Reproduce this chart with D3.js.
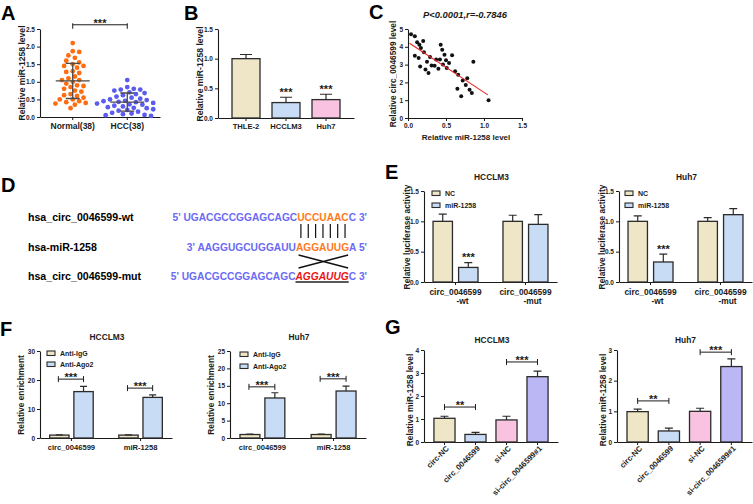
<!DOCTYPE html>
<html><head><meta charset="utf-8">
<script src="https://cdn.jsdelivr.net/npm/d3@7"></script>
<style>
body{margin:0;background:#fff;}
svg{display:block;font-family:Arial,"Liberation Sans",sans-serif;}
</style></head><body>
<svg id="chart" width="753" height="504"></svg>
<script>
// ---------------- DATA ----------------
const aCats = ["Normal(38)", "HCC(38)"];
const aNormal = [2.10,1.87,1.85,1.75,1.68,1.60,1.55,1.50,1.45,1.45,1.40,1.30,1.28,1.25,1.15,1.10,1.05,1.05,1.00,0.95,
                 0.90,0.88,0.85,0.80,0.75,0.72,0.65,0.62,0.60,0.55,0.50,0.50,0.45,0.42,0.40,0.38,0.35,0.25];
const aHCC = [1.05,0.85,0.80,0.78,0.78,0.75,0.70,0.68,0.65,0.62,0.58,0.55,0.52,0.50,0.48,0.46,0.45,0.43,0.42,0.40,
              0.38,0.36,0.35,0.32,0.30,0.28,0.26,0.25,0.22,0.20,0.18,0.15,0.12,0.10,0.08,0.06,0.05,0.03];
const aSig = "***";

const bCats = ["THLE-2", "HCCLM3", "Huh7"];
const bVals = [1.00, 0.26, 0.31];
const bErr  = [0.07, 0.09, 0.09];
const bSig  = ["", "***", "***"];

const cX = [0.04,0.09,0.12,0.15,0.09,0.14,0.17,0.20,0.21,0.16,0.23,0.25,0.27,0.29,0.35,0.37,0.40,0.42,0.43,
            0.45,0.46,0.48,0.50,0.51,0.54,0.58,0.62,0.66,0.65,0.70,0.72,0.76,0.78,0.81,0.84,0.86,1.06,0.31];
const cY = [4.70,4.59,4.25,4.12,3.50,3.37,3.93,4.33,3.70,2.90,2.72,3.16,2.53,3.43,2.94,3.28,2.77,3.28,4.12,
            3.84,3.00,3.56,3.24,2.81,3.09,3.52,2.62,2.43,1.65,1.22,2.10,1.85,2.23,1.59,1.40,3.16,1.00,2.95];
const cFitX = [0.02, 1.05];
const cFitY = [4.20, 1.30];
const cTitle = "P<0.0001,r=-0.7846";

const dRows = ["hsa_circ_0046599-wt", "hsa-miR-1258", "hsa_circ_0046599-mut"];
const dSeq = [["5' UGACGCCGGAGCAGC", "UCCUAAC", "C 3'"],
              ["3' AAGGUGCUGGAUU", "AGGAUUG", "A 5'"],
              ["5' UGACGCCGGAGCAGC", "AGGAUUG", "C 3'"]];

const eGroups = [["circ_0046599", "-wt"], ["circ_0046599", "-mut"]];
const eSeries = ["NC", "miR-1258"];
const eHccNC = [1.00, 1.00], eHccNCErr = [0.12, 0.10];
const eHccMiR = [0.24, 0.95], eHccMiRErr = [0.08, 0.16];
const eHuhNC = [1.00, 1.00], eHuhNCErr = [0.09, 0.06];
const eHuhMiR = [0.33, 1.11], eHuhMiRErr = [0.13, 0.10];
const eSig = ["***", ""];

const fGroups = ["circ_0046599", "miR-1258"];
const fSeries = ["Anti-IgG", "Anti-Ago2"];
const fHccIgG = [1.0, 1.0], fHccIgGErr = [0.1, 0.1];
const fHccAgo = [16.0, 14.0], fHccAgoErr = [1.8, 0.9];
const fHuhIgG = [1.0, 1.0], fHuhIgGErr = [0.1, 0.1];
const fHuhAgo = [11.5, 13.5], fHuhAgoErr = [1.5, 1.4];
const fHccBracket = [20.3, 17.2];
const fHuhBracket = [14.7, 17.0];
const fSig = ["***", "***"];

const gCats = ["circ-NC", "circ_0046599", "si-NC", "si-circ_0046599#1"];
const gHcc = [1.03, 0.33, 0.96, 2.84], gHccErr = [0.09, 0.09, 0.16, 0.24];
const gHuh = [0.99, 0.36, 1.00, 2.46], gHuhErr = [0.08, 0.09, 0.10, 0.25];
const gHccBracket = [1.52, 3.48];
const gHuhBracket = [1.34, 2.93];
const gSig = ["**", "***"];

// ---------------- STYLE ----------------
const INK = "#1b1b1b", EDGE = "#2b2b2b";
const C_BEIGE = "#EEE6C6", C_BLUE = "#C8DCF6", C_PINK = "#F8C2E0", C_LAV = "#BAB7F4";
const C_ORANGE_PT = "#FF6C10", C_BLUE_PT = "#5B5BF0";
const SEQ_BLUE = "#6A6AF4", SEQ_ORANGE = "#FF7A1A", SEQ_RED = "#EE1111";

const svg = d3.select("#chart");

function txt(x, y, s, fs, o = {}) {
  const t = svg.append("text").attr("x", x).attr("y", y).attr("font-size", fs)
    .attr("font-weight", "bold").attr("fill", o.fill || INK)
    .attr("text-anchor", o.anchor || "middle").text(s);
  if (o.italic) t.attr("font-style", "italic");
  return t;
}
function vLabel(x, yc, s, fs) {
  svg.append("text").attr("transform", `translate(${x},${yc}) rotate(-90)`)
    .attr("dy", "0.35em").attr("text-anchor", "middle").attr("font-size", fs)
    .attr("font-weight", "bold").attr("fill", INK).text(s);
}
function styleAxis(g, fs) {
  g.attr("font-family", null).attr("font-size", null);
  g.selectAll("path.domain").attr("stroke", INK).attr("stroke-width", 1.1);
  g.selectAll(".tick line").attr("stroke", INK).attr("stroke-width", 1);
  g.selectAll(".tick text").attr("fill", INK).attr("font-size", fs).attr("font-weight", "bold");
}
function yAxis(scale, x, ticks, fmt) {
  const g = svg.append("g").attr("transform", `translate(${x},0)`)
    .call(d3.axisLeft(scale).tickValues(ticks).tickFormat(fmt).tickSize(3).tickSizeOuter(0).tickPadding(2));
  styleAxis(g, 6.5);
  return g;
}
function xAxis(scale, y, opts = {}) {
  let ax = d3.axisBottom(scale).tickSize(3).tickSizeOuter(0).tickPadding(opts.pad || 3);
  if (opts.ticks) ax = ax.tickValues(opts.ticks);
  ax = ax.tickFormat(opts.fmt || "");
  const g = svg.append("g").attr("transform", `translate(0,${y})`).call(ax);
  styleAxis(g, opts.fs || 7);
  return g;
}
function bar(cx, w, v, e, y, fill, cap) {
  svg.append("rect").attr("x", cx - w / 2).attr("y", y(v)).attr("width", w)
    .attr("height", y(0) - y(v)).attr("fill", fill).attr("stroke", EDGE).attr("stroke-width", 1.3);
  svg.append("path").attr("d", `M${cx},${y(v)}V${y(v + e)}M${cx - cap / 2},${y(v + e)}H${cx + cap / 2}`)
    .attr("stroke", EDGE).attr("stroke-width", 1.2).attr("fill", "none");
}
function stars(cx, yTop, s) { txt(cx, yTop - 1.5, s, 11); }
function bracket(x1, x2, y, s, up = 3, down = 3) {
  svg.append("path").attr("d", `M${x1},${y - up}V${y + down}M${x1},${y}H${x2}M${x2},${y - up}V${y + down}`)
    .attr("stroke", INK).attr("stroke-width", 1).attr("fill", "none");
  txt((x1 + x2) / 2, y + 2.2, s, 11);
}
function legend(x, y0, dy, labels, colors) {
  labels.forEach((l, i) => {
    svg.append("rect").attr("x", x).attr("y", y0 + i * dy).attr("width", 8).attr("height", 4.5)
      .attr("fill", colors[i]).attr("stroke", EDGE).attr("stroke-width", 1.1);
    txt(x + 13, y0 + i * dy + 5, l, 7, { anchor: "start" });
  });
}
function panelLetter(x, y, s) { txt(x, y, s, 20, { anchor: "start" }).attr("fill", "#000"); }

// ---------------- A ----------------
panelLetter(1, 20, "A");
const aY = d3.scaleLinear().domain([0, 2.5]).range([117, 29]);
const aX = d3.scaleBand().domain(aCats).range([40, 160]).padding(0.2);
yAxis(aY, 40, [0, 0.5, 1, 1.5, 2, 2.5], d3.format(".1f"));
xAxis(aX, 117, { fmt: d => d, fs: 8.5, pad: 3 });
vLabel(21.5, 73, "Relative miR-1258 level", 8.6);

function swarm(vals, y, cx, r) {
  const pts = [];
  const sorted = [...vals].sort((a, b) => b - a);
  const d = 2 * r + 0.6;
  for (const v of sorted) {
    const py = y(v);
    let px = cx;
    for (let i = 0; i < 80; i++) {
      const off = i === 0 ? 0 : (i % 2 ? 1 : -1) * Math.ceil(i / 2) * r * 0.9;
      px = cx + off;
      if (pts.every(p => (p.x - px) ** 2 + (p.y - py) ** 2 >= d * d)) break;
    }
    pts.push({ x: px, y: py });
  }
  return pts;
}
[aNormal, aHCC].forEach((vals, i) => {
  const cx = aX(aCats[i]) + aX.bandwidth() / 2;
  const pts = swarm(vals, aY, cx, 2.4);
  svg.append("g").selectAll("circle").data(pts).join("circle")
    .attr("cx", d => d.x).attr("cy", d => d.y).attr("r", 2.4)
    .attr("fill", i === 0 ? C_ORANGE_PT : C_BLUE_PT);
  const m = d3.mean(vals), sd = d3.deviation(vals);
  svg.append("path")
    .attr("d", `M${cx - 17},${aY(m)}H${cx + 17}M${cx},${aY(m - sd)}V${aY(m + sd)}M${cx - 7},${aY(m - sd)}H${cx + 7}M${cx - 7},${aY(m + sd)}H${cx + 7}`)
    .attr("stroke", "#4a4a4a").attr("stroke-width", 1.3).attr("fill", "none");
});
{
  const x1 = aX(aCats[0]) + aX.bandwidth() / 2, x2 = aX(aCats[1]) + aX.bandwidth() / 2;
  bracket(x1, x2, aY(2.62), aSig, 1.5, 4);
}

// ---------------- B ----------------
panelLetter(184, 20, "B");
const bY = d3.scaleLinear().domain([0, 1.5]).range([118, 29]);
const bX = d3.scaleBand().domain(bCats).range([218, 354]).paddingInner(0.3).paddingOuter(0.35);
yAxis(bY, 218, [0, 0.5, 1, 1.5], d3.format(".1f"));
xAxis(bX, 118, { fmt: d => d, fs: 7.6, pad: 3 });
vLabel(200, 74, "Relative miR-1258 level", 8.6);
const bColors = [C_BEIGE, C_BLUE, C_PINK];
bCats.forEach((c, i) => {
  const cx = bX(c) + bX.bandwidth() / 2;
  bar(cx, bX.bandwidth(), bVals[i], bErr[i], bY, bColors[i], 12);
  if (bSig[i]) stars(cx, bY(bVals[i] + bErr[i]), bSig[i]);
});

// ---------------- C ----------------
panelLetter(369, 19, "C");
const cXs = d3.scaleLinear().domain([0, 1.5]).range([408, 522]);
const cYs = d3.scaleLinear().domain([0, 5]).range([118, 29]);
yAxis(cYs, 408, [0, 1, 2, 3, 4, 5], d3.format("d"));
xAxis(cXs, 118, { ticks: [0, 0.5, 1, 1.5], fmt: d3.format(".1f"), fs: 6.5, pad: 2 });
svg.append("g").selectAll("circle").data(cX.map((x, i) => [x, cY[i]])).join("circle")
  .attr("cx", d => cXs(d[0])).attr("cy", d => cYs(d[1])).attr("r", 2).attr("fill", "#111");
svg.append("line").attr("x1", cXs(cFitX[0])).attr("y1", cYs(cFitY[0]))
  .attr("x2", cXs(cFitX[1])).attr("y2", cYs(cFitY[1])).attr("stroke", "#E8262A").attr("stroke-width", 1.1);
txt(465, 18, cTitle, 9.4, { italic: true });
txt(466, 140, "Relative miR-1258 level", 8);
vLabel(393.5, 74, "Relative circ_0046599 level", 8.3);

// ---------------- D ----------------
panelLetter(1, 192, "D");
const dBase = [221, 251, 280];
dRows.forEach((r, i) => txt(28, dBase[i], r, 10.6, { anchor: "start" }).attr("fill", "#000"));
const seqNodes = dSeq.map((parts, i) => {
  const t = svg.append("text").attr("x", 367).attr("y", dBase[i]).attr("text-anchor", "end")
    .attr("font-size", 10.2).attr("font-weight", "bold");
  t.append("tspan").attr("fill", SEQ_BLUE).text(parts[0]);
  const mid = t.append("tspan").attr("fill", i < 2 ? SEQ_ORANGE : SEQ_RED).text(parts[1]);
  if (i === 2) mid.attr("font-style", "italic");
  t.append("tspan").attr("fill", SEQ_BLUE).text(parts[2]);
  return t.node();
});
function charCenters(node, start, n) {
  const out = [];
  for (let k = start; k < start + n; k++)
    out.push((node.getStartPositionOfChar(k).x + node.getEndPositionOfChar(k).x) / 2);
  return out;
}
{
  const c0 = charCenters(seqNodes[0], dSeq[0][0].length, dSeq[0][1].length);
  c0.forEach(x => svg.append("line").attr("x1", x).attr("x2", x).attr("y1", 224).attr("y2", 238)
    .attr("stroke", "#111").attr("stroke-width", 1.2));
  const c1 = charCenters(seqNodes[1], dSeq[1][0].length, dSeq[1][1].length);
  const xa = c1[0] - 1, xb = c1[c1.length - 1] + 3;
  svg.append("path").attr("d", `M${xa},${255}L${xb},${268}M${xa},${268}L${xb},${255}`)
    .attr("stroke", "#111").attr("stroke-width", 1.3).attr("fill", "none");
  const n2 = seqNodes[2], s2 = dSeq[2][0].length, l2 = dSeq[2][1].length;
  const ux1 = n2.getStartPositionOfChar(s2).x, ux2 = n2.getEndPositionOfChar(s2 + l2 - 1).x;
  svg.append("line").attr("x1", ux1).attr("x2", ux2).attr("y1", 282).attr("y2", 282)
    .attr("stroke", "#222").attr("stroke-width", 1.4);
}

// ---------------- E ----------------
panelLetter(385, 179, "E");
function panelE(axisX, right, nc, ncErr, mir, mirErr, title, legX) {
  const y = d3.scaleLinear().domain([0, 1.5]).range([282, 191]);
  const x0 = d3.scaleBand().domain([0, 1]).range([axisX, right]).paddingInner(0.357).paddingOuter(0.129);
  const x1 = d3.scaleBand().domain(eSeries).range([0, x0.bandwidth()]).paddingInner(0.24);
  yAxis(y, axisX, [0, 0.5, 1, 1.5], d3.format(".1f"));
  xAxis(x0, 282, {});
  [0, 1].forEach(g => {
    const gc = x0(g) + x0.bandwidth() / 2;
    [nc, mir].forEach((vals, s) => {
      const errs = s === 0 ? ncErr : mirErr;
      const cx = x0(g) + x1(eSeries[s]) + x1.bandwidth() / 2;
      bar(cx, x1.bandwidth(), vals[g], errs[g], y, s === 0 ? C_BEIGE : C_BLUE, 8);
      if (s === 1 && eSig[g]) stars(cx, y(vals[g] + errs[g]), eSig[g]);
    });
    txt(gc, 295, eGroups[g][0], 8.4);
    txt(gc + 7, 304, eGroups[g][1], 8.4);
  });
  txt((axisX + right) / 2 + 1, 180, title, 8.4);
  vLabel(axisX - 17, 237, "Relative luciferase activity", 8.4);
  legend(legX, 191, 12, eSeries, [C_BEIGE, C_BLUE]);
}
panelE(424, 557, eHccNC, eHccNCErr, eHccMiR, eHccMiRErr, "HCCLM3", 432);
panelE(619, 752, eHuhNC, eHuhNCErr, eHuhMiR, eHuhMiRErr, "Huh7", 625);

// ---------------- F ----------------
panelLetter(0, 336, "F");
function panelF(axisX, right, yMax, ticks, igg, iggErr, ago, agoErr, brk, title, legX, legY, legDy) {
  const y = d3.scaleLinear().domain([0, yMax]).range([438, 351]);
  const x0 = d3.scaleBand().domain(fGroups).range([axisX, right]).paddingInner(0.37).paddingOuter(0.14);
  const x1 = d3.scaleBand().domain(fSeries).range([0, x0.bandwidth()]).paddingInner(0.2);
  yAxis(y, axisX, ticks, d3.format("d"));
  xAxis(x0, 438, {});
  fGroups.forEach((g, gi) => {
    const cs = fSeries.map(s => x0(g) + x1(s) + x1.bandwidth() / 2);
    bar(cs[0], x1.bandwidth(), igg[gi], iggErr[gi], y, C_BEIGE, 7);
    bar(cs[1], x1.bandwidth(), ago[gi], agoErr[gi], y, C_BLUE, 7);
    bracket(cs[0] - 1, cs[1], y(brk[gi]), fSig[gi]);
    txt(x0(g) + x0.bandwidth() / 2, 450, g, 7.6);
  });
  txt((axisX + right) / 2 + 1, 340, title, 8.4);
  vLabel(axisX - 19, 395, "Relative enrichment", 8.4);
  legend(legX, legY, legDy, fSeries, [C_BEIGE, C_BLUE]);
}
panelF(40, 172, 30, [0, 10, 20, 30], fHccIgG, fHccIgGErr, fHccAgo, fHccAgoErr, fHccBracket, "HCCLM3", 47, 351, 11);
panelF(230, 366, 25, [0, 5, 10, 15, 20, 25], fHuhIgG, fHuhIgGErr, fHuhAgo, fHuhAgoErr, fHuhBracket, "Huh7", 240, 352, 12);

// ---------------- G ----------------
panelLetter(385, 334, "G");
function panelG(axisX, right, yMax, ticks, vals, errs, brk, title) {
  const y = d3.scaleLinear().domain([0, yMax]).range([442, 350]);
  const x = d3.scaleBand().domain(gCats).range([axisX, right]).paddingInner(0.32).paddingOuter(0.32);
  yAxis(y, axisX, ticks, d3.format("d"));
  xAxis(x, 442, {});
  const colors = [C_BEIGE, C_BLUE, C_PINK, C_LAV];
  const cs = gCats.map(c => x(c) + x.bandwidth() / 2);
  gCats.forEach((c, i) => {
    bar(cs[i], x.bandwidth(), vals[i], errs[i], y, colors[i], 8);
    svg.append("text").attr("transform", `translate(${cs[i] + 5},${449}) rotate(-45)`)
      .attr("text-anchor", "end").attr("font-size", 7.8).attr("font-weight", "bold")
      .attr("fill", INK).text(c);
  });
  bracket(cs[0], cs[1], y(brk[0]), gSig[0]);
  bracket(cs[2], cs[3], y(brk[1]), gSig[1]);
  txt((axisX + right) / 2 + 1, 343, title, 8.4);
  vLabel(axisX - 14, 400, "Relative miR-1258 level", 8.4);
}
panelG(424, 558, 4, [0, 1, 2, 3, 4], gHcc, gHccErr, gHccBracket, "HCCLM3");
panelG(617, 752, 3, [0, 1, 2, 3], gHuh, gHuhErr, gHuhBracket, "Huh7");
</script>
</body></html>
